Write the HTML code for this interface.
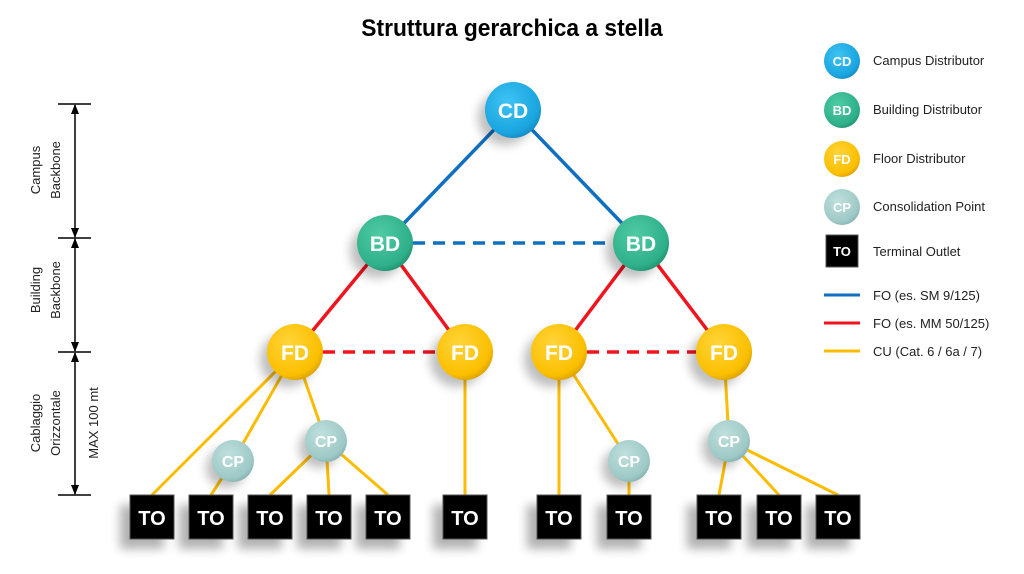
<!DOCTYPE html>
<html><head><meta charset="utf-8"><style>
body{margin:0;background:#fff}
svg{display:block;font-family:"Liberation Sans",sans-serif}
</style></head><body>
<svg width="1024" height="574" viewBox="0 0 1024 574">
<defs>
<radialGradient id="gCD" cx="0.4" cy="0.35" r="0.7"><stop offset="0" stop-color="#3ec3f3"/><stop offset="0.8" stop-color="#1aa5e0"/><stop offset="1" stop-color="#1587c0"/></radialGradient>
<radialGradient id="gBD" cx="0.4" cy="0.35" r="0.7"><stop offset="0" stop-color="#4fcba4"/><stop offset="0.8" stop-color="#2fb08a"/><stop offset="1" stop-color="#1f8f6e"/></radialGradient>
<radialGradient id="gFD" cx="0.4" cy="0.35" r="0.7"><stop offset="0" stop-color="#ffd43a"/><stop offset="0.8" stop-color="#fbbf00"/><stop offset="1" stop-color="#d89d00"/></radialGradient>
<radialGradient id="gCP" cx="0.4" cy="0.35" r="0.7"><stop offset="0" stop-color="#bfe0dd"/><stop offset="0.8" stop-color="#9ec9c6"/><stop offset="1" stop-color="#82b0ad"/></radialGradient>
<filter id="sh" x="-50%" y="-50%" width="200%" height="200%"><feGaussianBlur stdDeviation="5"/></filter>
<marker id="ah" markerUnits="userSpaceOnUse" markerWidth="10" markerHeight="10" refX="9" refY="5" orient="auto-start-reverse"><path d="M0,1 L10,5 L0,9z" fill="#000"/></marker>
</defs>
<text x="512" y="36" text-anchor="middle" font-size="24" font-weight="bold" transform="translate(512,0) scale(0.95,1) translate(-512,0)">Struttura gerarchica a stella</text>
<!-- dimension -->
<g stroke="#000" stroke-width="1.5">
<line x1="58" y1="104" x2="91" y2="104"/><line x1="58" y1="238" x2="91" y2="238"/><line x1="58" y1="352" x2="91" y2="352"/><line x1="58" y1="495" x2="91" y2="495"/>
<line x1="75" y1="105" x2="75" y2="237" marker-start="url(#ah)" marker-end="url(#ah)"/>
<line x1="75" y1="239" x2="75" y2="351" marker-start="url(#ah)" marker-end="url(#ah)"/>
<line x1="75" y1="353" x2="75" y2="494" marker-start="url(#ah)" marker-end="url(#ah)"/>
</g>
<g font-size="13" text-anchor="middle" fill="#222">
<text transform="translate(40,170) rotate(-90)">Campus</text><text transform="translate(60,170) rotate(-90)">Backbone</text>
<text transform="translate(40,290) rotate(-90)">Building</text><text transform="translate(60,290) rotate(-90)">Backbone</text>
<text transform="translate(40,423) rotate(-90)">Cablaggio</text><text transform="translate(60,423) rotate(-90)">Orizzontale</text>
<text transform="translate(98,423) rotate(-90)">MAX 100 mt</text>
</g>
<!-- lines -->
<g stroke-width="3.5" fill="none">
<g stroke="#0f6fc0"><line x1="513" y1="110" x2="385" y2="243"/><line x1="513" y1="110" x2="641" y2="243"/><line x1="413" y1="243" x2="613" y2="243" stroke-dasharray="12,8"/></g>
<g stroke="#f0141e"><line x1="385" y1="243" x2="295" y2="352"/><line x1="385" y1="243" x2="465" y2="352"/><line x1="641" y1="243" x2="559" y2="352"/><line x1="641" y1="243" x2="724" y2="352"/>
<line x1="323" y1="352" x2="437" y2="352" stroke-dasharray="12,8"/><line x1="587" y1="352" x2="696" y2="352" stroke-dasharray="12,8"/></g>
<g stroke="#fbbc05" stroke-width="3">
<line x1="295" y1="352" x2="152" y2="495"/><line x1="295" y1="352" x2="233" y2="461"/><line x1="295" y1="352" x2="326" y2="441"/>
<line x1="233" y1="461" x2="211" y2="495"/>
<line x1="326" y1="441" x2="270" y2="495"/><line x1="326" y1="441" x2="329" y2="495"/><line x1="326" y1="441" x2="388" y2="495"/>
<line x1="465" y1="352" x2="465" y2="495"/>
<line x1="559" y1="352" x2="559" y2="495"/><line x1="559" y1="352" x2="629" y2="461"/><line x1="629" y1="461" x2="629" y2="495"/>
<line x1="724" y1="352" x2="729" y2="441"/><line x1="729" y1="441" x2="719" y2="495"/><line x1="729" y1="441" x2="779" y2="495"/><line x1="729" y1="441" x2="838" y2="495"/>
</g>
</g>
<!-- nodes -->
<g font-weight="bold" text-anchor="middle" fill="#fff">
<g fill="#000" opacity="0.25" filter="url(#sh)">
<circle cx="505" cy="118" r="27"/><circle cx="377" cy="251" r="27"/><circle cx="633" cy="251" r="27"/>
<circle cx="287" cy="360" r="27"/><circle cx="457" cy="360" r="27"/><circle cx="551" cy="360" r="27"/><circle cx="716" cy="360" r="27"/>
<circle cx="226" cy="468" r="20"/><circle cx="319" cy="448" r="20"/><circle cx="622" cy="468" r="20"/><circle cx="722" cy="448" r="20"/>
</g>
<circle cx="513" cy="110" r="28" fill="url(#gCD)"/><text x="513" y="118" font-size="21">CD</text>
<circle cx="385" cy="243" r="28" fill="url(#gBD)"/><text x="385" y="251" font-size="21">BD</text>
<circle cx="641" cy="243" r="28" fill="url(#gBD)"/><text x="641" y="251" font-size="21">BD</text>
<circle cx="295" cy="352" r="28" fill="url(#gFD)"/><text x="295" y="360" font-size="21">FD</text>
<circle cx="465" cy="352" r="28" fill="url(#gFD)"/><text x="465" y="360" font-size="21">FD</text>
<circle cx="559" cy="352" r="28" fill="url(#gFD)"/><text x="559" y="360" font-size="21">FD</text>
<circle cx="724" cy="352" r="28" fill="url(#gFD)"/><text x="724" y="360" font-size="21">FD</text>
<circle cx="233" cy="461" r="21" fill="url(#gCP)"/><text x="233" y="467" font-size="16">CP</text>
<circle cx="326" cy="441" r="21" fill="url(#gCP)"/><text x="326" y="447" font-size="16">CP</text>
<circle cx="629" cy="461" r="21" fill="url(#gCP)"/><text x="629" y="467" font-size="16">CP</text>
<circle cx="729" cy="441" r="21" fill="url(#gCP)"/><text x="729" y="447" font-size="16">CP</text>
</g>
<!-- TO boxes -->
<g font-weight="bold" text-anchor="middle" font-size="20">
<g fill="#000" opacity="0.3" filter="url(#sh)">
<rect x="120" y="505" width="44" height="44"/><rect x="179" y="505" width="44" height="44"/><rect x="238" y="505" width="44" height="44"/><rect x="297" y="505" width="44" height="44"/><rect x="356" y="505" width="44" height="44"/><rect x="433" y="505" width="44" height="44"/><rect x="527" y="505" width="44" height="44"/><rect x="597" y="505" width="44" height="44"/><rect x="687" y="505" width="44" height="44"/><rect x="747" y="505" width="44" height="44"/><rect x="806" y="505" width="44" height="44"/>
</g>
<g fill="#000" stroke="#555" stroke-width="1">
<rect x="130" y="495" width="44" height="44"/><rect x="189" y="495" width="44" height="44"/><rect x="248" y="495" width="44" height="44"/><rect x="307" y="495" width="44" height="44"/><rect x="366" y="495" width="44" height="44"/><rect x="443" y="495" width="44" height="44"/><rect x="537" y="495" width="44" height="44"/><rect x="607" y="495" width="44" height="44"/><rect x="697" y="495" width="44" height="44"/><rect x="757" y="495" width="44" height="44"/><rect x="816" y="495" width="44" height="44"/>
</g>
<g fill="#fff">
<text x="152" y="525">TO</text><text x="211" y="525">TO</text><text x="270" y="525">TO</text><text x="329" y="525">TO</text><text x="388" y="525">TO</text><text x="465" y="525">TO</text><text x="559" y="525">TO</text><text x="629" y="525">TO</text><text x="719" y="525">TO</text><text x="779" y="525">TO</text><text x="838" y="525">TO</text>
</g>
</g>
<!-- legend -->
<g font-weight="bold" text-anchor="middle" fill="#fff" font-size="13">
<circle cx="842" cy="61" r="18" fill="url(#gCD)"/><text x="842" y="66">CD</text>
<circle cx="842" cy="110" r="18" fill="url(#gBD)"/><text x="842" y="115">BD</text>
<circle cx="842" cy="159" r="18" fill="url(#gFD)"/><text x="842" y="164">FD</text>
<circle cx="842" cy="207" r="18" fill="url(#gCP)"/><text x="842" y="212">CP</text>
<rect x="826" y="235" width="32" height="32" fill="#000" stroke="#555"/><text x="842" y="256">TO</text>
</g>
<g stroke-width="3"><line x1="824" y1="295" x2="860" y2="295" stroke="#0f6fc0"/><line x1="824" y1="323" x2="860" y2="323" stroke="#f0141e"/><line x1="824" y1="351" x2="860" y2="351" stroke="#fbbc05"/></g>
<g font-size="13" fill="#222">
<text x="873" y="65">Campus Distributor</text><text x="873" y="114">Building Distributor</text><text x="873" y="163">Floor Distributor</text><text x="873" y="211">Consolidation Point</text><text x="873" y="256">Terminal Outlet</text>
<text x="873" y="300">FO (es. SM 9/125)</text><text x="873" y="328">FO (es. MM 50/125)</text><text x="873" y="356">CU (Cat. 6 / 6a / 7)</text>
</g>
</svg>
</body></html>
